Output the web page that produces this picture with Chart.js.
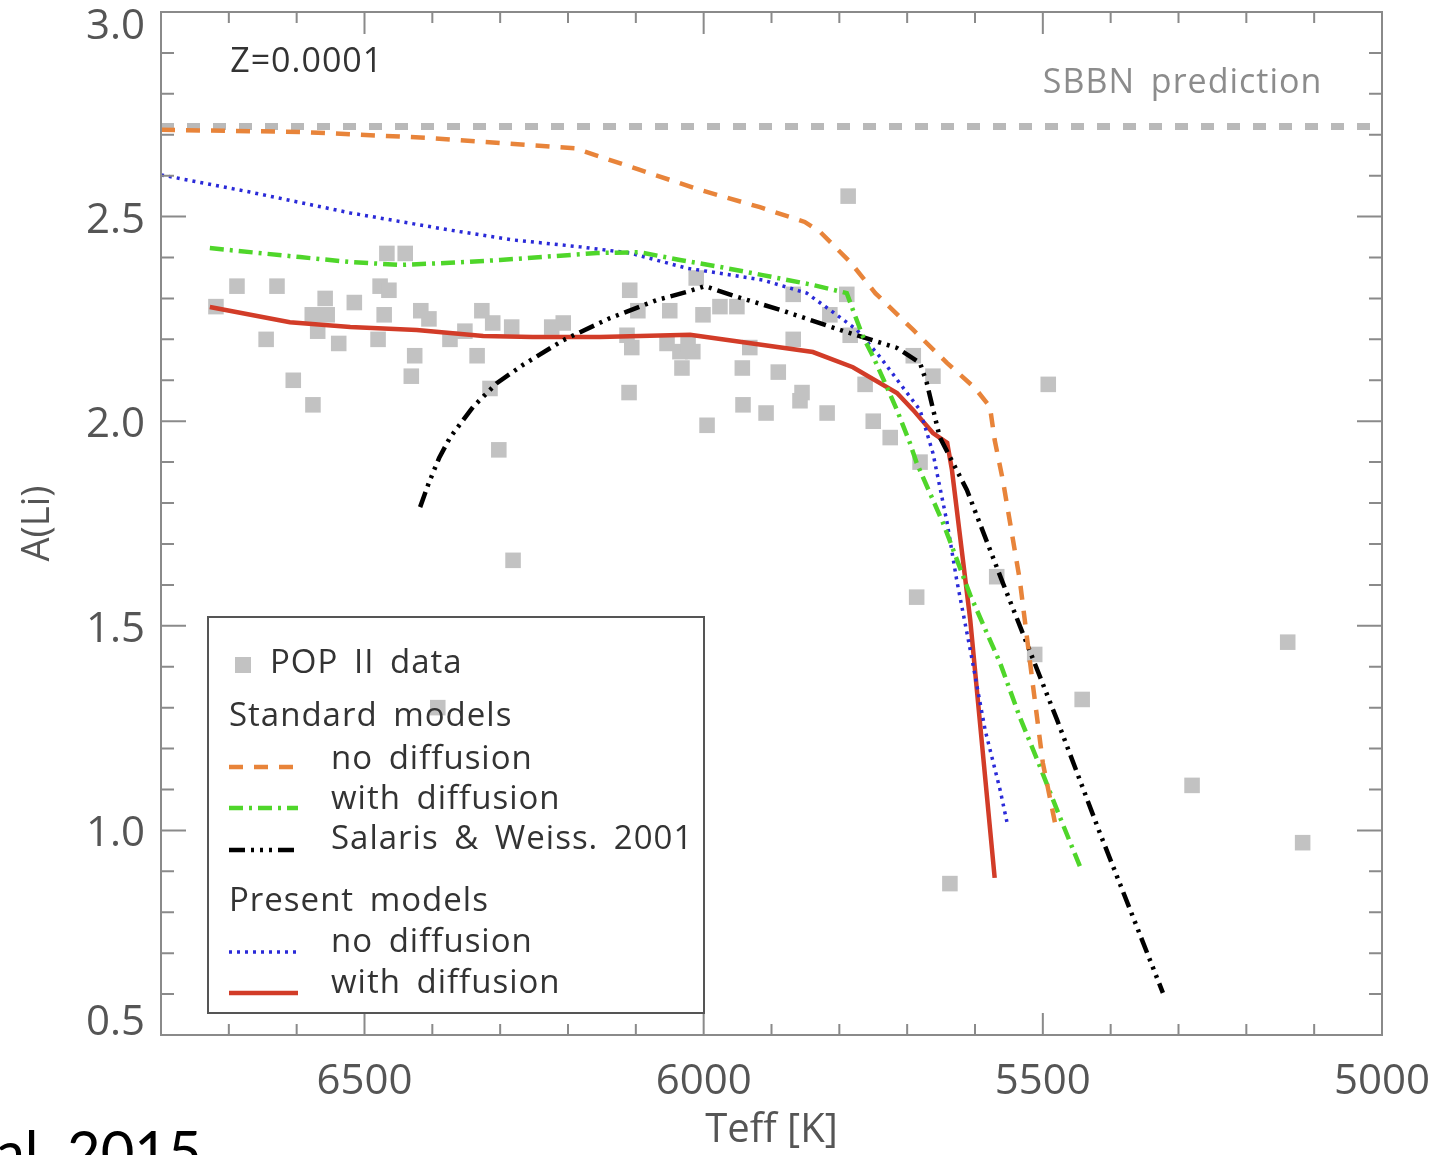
<!DOCTYPE html>
<html>
<head>
<meta charset="utf-8">
<script src="https://cdn.jsdelivr.net/npm/chart.js@4"></script>
<style>
  html, body { margin: 0; padding: 0; background: #fff; }
  #wrap { width: 1437px; height: 1155px; }
</style>
</head>
<body>
<div id="wrap"><canvas id="liChart" width="1437" height="1155"></canvas></div>
<script>
// axis ticks
const xTicks = [6500, 6000, 5500, 5000];
const yTicks = [0.5, 1.0, 1.5, 2.0, 2.5, 3.0];

// POP II stars
const popTeff = [6719, 6688, 6629, 6645, 6605, 6576, 6577, 6558, 6555, 6569, 6538, 6515, 6477, 6464, 6471, 6480,
  6467, 6440, 6417, 6405, 6426, 6431, 6352, 6327, 6311, 6374, 6334, 6283, 6224, 6207, 6315, 6302, 6281, 6392,
  6109, 6097, 6050, 6113, 6106, 6054, 6035, 6032, 6110, 5787, 6011, 5976, 5951, 6001, 5868, 5789, 5814, 5784,
  5868, 5932, 6016, 5943, 5890, 5855, 5858, 5942, 5908, 5818, 5995, 5762, 5750, 5725, 5691, 5662, 5681, 5492,
  5568, 5686, 5637, 5512, 5442, 5280, 5139, 5117, 6023];
const popALi = [2.28, 2.33, 2.33, 2.20, 2.10, 2.04, 2.26, 2.30, 2.26, 2.22, 2.19, 2.29, 2.33, 2.32, 2.26, 2.20,
  2.41, 2.41, 2.27, 2.25, 2.16, 2.11, 2.22, 2.27, 2.24, 2.20, 2.16, 2.23, 2.23, 2.24, 2.08, 1.93, 1.66, 1.30,
  2.32, 2.27, 2.27, 2.21, 2.18, 2.19, 2.17, 2.13, 2.07, 2.55, 2.35, 2.28, 2.28, 2.26, 2.31, 2.31, 2.26, 2.21,
  2.20, 2.18, 2.17, 2.13, 2.12, 2.07, 2.05, 2.04, 2.02, 2.02, 1.99, 2.09, 2.00, 1.96, 2.16, 2.11, 1.90, 2.09,
  1.62, 1.57, 0.87, 1.43, 1.32, 1.11, 1.46, 0.97, 2.19];

// SBBN
const sbbnTeff = [6800, 5000];
const sbbnALi = [2.72, 2.72];

// standard models, no diffusion
const stdNoDiffTeff = [6800, 6595, 6403, 6190, 6094, 6005, 5917, 5851, 5828, 5784, 5747, 5691, 5641, 5600, 5578,
  5571, 5559, 5544, 5534, 5515, 5500, 5482];
const stdNoDiffALi = [2.712, 2.707, 2.692, 2.667, 2.614, 2.565, 2.523, 2.487, 2.462, 2.389, 2.313, 2.223, 2.142,
  2.081, 2.035, 1.954, 1.856, 1.710, 1.612, 1.360, 1.165, 1.018];

// standard models, with diffusion
const stdDiffTeff = [6728, 6595, 6521, 6448, 6374, 6300, 6157, 6094, 6035, 5976, 5913, 5839, 5789, 5780, 5765,
  5750, 5730, 5715, 5696, 5686, 5647, 5607, 5563, 5534, 5504, 5475, 5445];
const stdDiffALi = [2.423, 2.401, 2.389, 2.382, 2.387, 2.394, 2.411, 2.413, 2.394, 2.377, 2.357, 2.333, 2.313,
  2.272, 2.206, 2.157, 2.084, 2.027, 1.947, 1.898, 1.751, 1.575, 1.409, 1.277, 1.155, 1.033, 0.911];

// Salaris & Weiss 2001
const swTeff = [6418, 6405, 6390, 6374, 6340, 6305, 6266, 6207, 6138, 6069, 6025, 5998, 5951, 5887, 5799, 5715,
  5681, 5671, 5652, 5612, 5559, 5479, 5416, 5323];
const swALi = [1.790, 1.850, 1.910, 1.960, 2.035, 2.093, 2.138, 2.198, 2.252, 2.296, 2.316, 2.330, 2.304, 2.272,
  2.223, 2.179, 2.142, 2.093, 1.961, 1.832, 1.605, 1.270, 0.994, 0.603];

// present models, no diffusion
const presNoDiffTeff = [6800, 6669, 6521, 6374, 6281, 6182, 6109, 6025, 5913, 5848, 5814, 5774, 5740, 5711, 5681,
  5662, 5641, 5627, 5607, 5585, 5563, 5553];
const presNoDiffALi = [2.602, 2.560, 2.509, 2.467, 2.443, 2.426, 2.411, 2.374, 2.345, 2.313, 2.272, 2.223, 2.157,
  2.093, 2.027, 1.922, 1.751, 1.612, 1.441, 1.245, 1.099, 1.021];

// present models, with diffusion
const presDiffTeff = [6728, 6610, 6521, 6423, 6325, 6252, 6153, 6020, 5839, 5780, 5715, 5691, 5662, 5641, 5634,
  5607, 5571];
const presDiffALi = [2.279, 2.242, 2.230, 2.223, 2.208, 2.206, 2.206, 2.211, 2.169, 2.132, 2.069, 2.027, 1.971,
  1.947, 1.881, 1.514, 0.884];

function pts(xs, ys) {
  return xs.map((x, i) => ({ x: x, y: ys[i] }));
}

const FONT = "'Open Sans', 'DejaVu Sans', sans-serif";

function lineSet(label, xs, ys, color, width, dash) {
  return {
    label: label,
    data: pts(xs, ys),
    showLine: true,
    borderColor: color,
    backgroundColor: color,
    borderWidth: width,
    borderDash: dash,
    pointRadius: 0,
    tension: 0,
    fill: false,
    order: 1
  };
}

const datasets = [
  {
    label: 'POP II data',
    data: pts(popTeff, popALi),
    pointStyle: 'rect',
    pointRadius: 11,
    pointBorderWidth: 0,
    backgroundColor: '#c2c2c2',
    borderColor: '#c2c2c2',
    showLine: false,
    order: 10
  },
  Object.assign(lineSet('SBBN prediction', sbbnTeff, sbbnALi, '#b9b9b9', 7, [13, 13]), { order: 9 }),
  lineSet('no diffusion', stdNoDiffTeff, stdNoDiffALi, '#e8843a', 4.5, [14, 11]),
  lineSet('with diffusion', stdDiffTeff, stdDiffALi, '#4fd62a', 4.5, [14, 6, 3, 6]),
  lineSet('Salaris & Weiss. 2001', swTeff, swALi, '#000000', 4.5, [16, 6, 3, 6, 3, 6, 3, 6]),
  lineSet('no diffusion', presNoDiffTeff, presNoDiffALi, '#2a2ad8', 3.5, [3, 5]),
  lineSet('with diffusion', presDiffTeff, presDiffALi, '#d23c28', 4.5, [])
];

// frame with inward major/minor ticks on all four sides
const frame = {
  id: 'frame',
  afterDatasetsDraw(chart) {
    const { ctx, chartArea: a, scales: { x, y } } = chart;
    ctx.save();
    ctx.strokeStyle = '#8a8a8a';
    ctx.lineWidth = 2;
    ctx.setLineDash([]);
    ctx.strokeRect(a.left, a.top, a.right - a.left, a.bottom - a.top);
    ctx.beginPath();
    for (let t = 5000; t <= 6800; t += 100) {
      const px = x.getPixelForValue(t);
      const len = t % 500 === 0 ? 22 : 11;
      ctx.moveTo(px, a.bottom); ctx.lineTo(px, a.bottom - len);
      ctx.moveTo(px, a.top); ctx.lineTo(px, a.top + len);
    }
    for (let k = 5; k <= 30; k++) {
      const py = y.getPixelForValue(k / 10);
      const len = k % 5 === 0 ? 25 : 13;
      ctx.moveTo(a.left, py); ctx.lineTo(a.left + len, py);
      ctx.moveTo(a.right, py); ctx.lineTo(a.right - len, py);
    }
    ctx.stroke();
    ctx.restore();
  }
};

// legend box and annotations
const notes = {
  id: 'notes',
  afterDraw(chart) {
    const { ctx, chartArea: a, scales: { x, y } } = chart;
    const ds = chart.data.datasets;
    ctx.save();
    ctx.textBaseline = 'middle';
    ctx.textAlign = 'left';
    ctx.letterSpacing = '1px';
    ctx.wordSpacing = '6px';

    ctx.font = '34px ' + FONT;
    ctx.fillStyle = '#333';
    ctx.fillText('Z=0.0001', x.getPixelForValue(6698), y.getPixelForValue(2.878));
    ctx.fillStyle = '#8c8c8c';
    ctx.fillText('SBBN prediction', x.getPixelForValue(5500), y.getPixelForValue(2.826));

    // legend
    const L = a.left + 47, T = a.top + 605, W = 496, H = 396;
    ctx.strokeStyle = '#555';
    ctx.lineWidth = 2;
    ctx.strokeRect(L, T, W, H);

    ctx.fillStyle = ds[0].backgroundColor;
    ctx.fillRect(L + 27, T + 40, 16, 16);
    ctx.fillStyle = '#333';
    ctx.font = '33px ' + FONT;
    ctx.fillText('POP II data', L + 62, T + 47);
    ctx.fillText('Standard models', L + 21, T + 100);
    ctx.fillText('Present models', L + 21, T + 285);

    const rows = [
      [2, T + 150, T + 143],
      [3, T + 191, T + 183],
      [4, T + 233, T + 223],
      [5, T + 335, T + 326],
      [6, T + 376, T + 367]
    ];
    rows.forEach(([i, ly, ty]) => {
      const d = ds[i];
      ctx.beginPath();
      ctx.strokeStyle = d.borderColor;
      ctx.lineWidth = d.borderWidth;
      ctx.setLineDash(d.borderDash);
      ctx.moveTo(L + 21, ly);
      ctx.lineTo(L + 90, ly);
      ctx.stroke();
      ctx.setLineDash([]);
      ctx.fillStyle = '#333';
      ctx.fillText(d.label, L + 123, ty);
    });

    // slide caption remnant
    ctx.letterSpacing = '0px';
    ctx.wordSpacing = '0px';
    ctx.font = '58px Lato, ' + FONT;
    ctx.fillStyle = '#000';
    ctx.textBaseline = 'alphabetic';
    ctx.fillText('al. 2015', -4, 1173);
    ctx.restore();
  }
};

// keep the end y labels inside the picture and sit labels slightly low
const yLabelNudge = {
  id: 'yLabelNudge',
  beforeDraw(chart) {
    const s = chart.scales.y;
    if (!s || typeof s._computeLabelItems !== 'function') return;
    const a = chart.chartArea;
    const items = s._computeLabelItems(a);
    items.forEach(it => {
      const tr = it.options && it.options.translation;
      if (!tr) return;
      tr[1] += 4;
      if (tr[1] < a.top + 15) tr[1] = a.top + 15;
      if (tr[1] > a.bottom - 12) tr[1] = a.bottom - 12;
    });
    s._labelItems = items;
  }
};

new Chart(document.getElementById('liChart').getContext('2d'), {
  type: 'scatter',
  data: { datasets: datasets },
  options: {
    responsive: false,
    animation: false,
    devicePixelRatio: 1,
    layout: { padding: { top: 12, right: 55, left: 0, bottom: 0 } },
    plugins: {
      legend: { display: false },
      tooltip: { enabled: false }
    },
    scales: {
      x: {
        type: 'linear',
        reverse: true,
        min: 5000,
        max: 6800,
        grid: { display: false, drawTicks: false },
        border: { display: false },
        afterBuildTicks: s => { s.ticks = xTicks.map(v => ({ value: v })); },
        afterFit: s => { s.height = 120; s.paddingLeft = 0; s.paddingRight = 0; },
        ticks: {
          padding: 22,
          color: '#555',
          font: { family: FONT, size: 42 },
          maxRotation: 0,
          callback: v => String(v)
        },
        title: {
          display: true,
          text: 'Teff [K]',
          color: '#555',
          font: { family: FONT, size: 40 },
          padding: { top: 0, bottom: 0 }
        }
      },
      y: {
        type: 'linear',
        min: 0.5,
        max: 3.0,
        grid: { display: false, drawTicks: false },
        border: { display: false },
        afterBuildTicks: s => { s.ticks = yTicks.map(v => ({ value: v })); },
        afterFit: s => { s.width = 161; s.paddingTop = 0; s.paddingBottom = 0; },
        ticks: {
          padding: 16,
          color: '#555',
          font: { family: FONT, size: 42 },
          callback: v => Number(v).toFixed(1)
        },
        title: {
          display: true,
          text: 'A(Li)',
          color: '#555',
          font: { family: FONT, size: 38 },
          padding: { top: 15, bottom: 0 }
        }
      }
    }
  },
  plugins: [frame, notes, yLabelNudge]
});
</script>
</body>
</html>
